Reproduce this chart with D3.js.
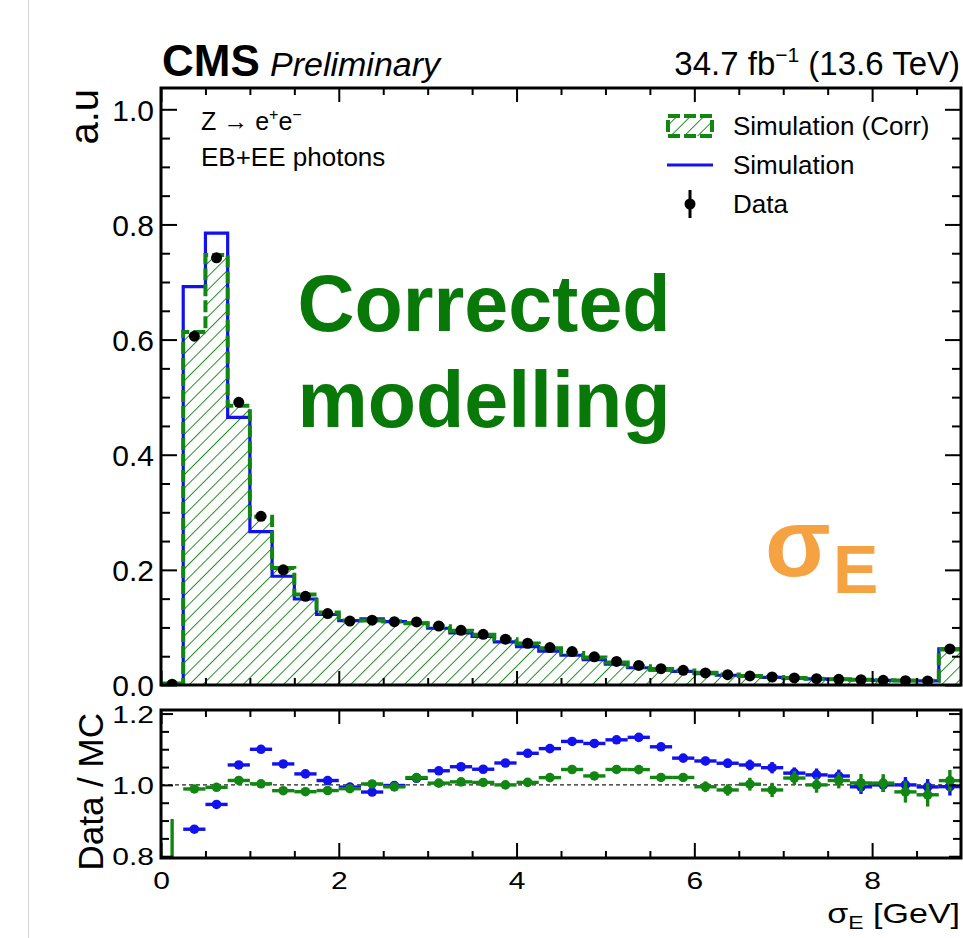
<!DOCTYPE html>
<html>
<head>
<meta charset="utf-8">
<script src="https://cdn.jsdelivr.net/npm/d3@7"></script>
<style>
  body { margin: 0; background: #fff; }
  svg { display: block; }
  text { font-family: "Liberation Sans", Arial, Helvetica, sans-serif; }
</style>
</head>
<body>
<svg id="chart" width="963" height="938"></svg>
<script>
// ---- binning: 36 bins of 0.25 GeV in sigma_E (last bin holds overflow) ----
const binLow = [0, 0.25, 0.5, 0.75, 1.0, 1.25, 1.5, 1.75, 2.0, 2.25, 2.5, 2.75,
                3.0, 3.25, 3.5, 3.75, 4.0, 4.25, 4.5, 4.75, 5.0, 5.25, 5.5, 5.75,
                6.0, 6.25, 6.5, 6.75, 7.0, 7.25, 7.5, 7.75, 8.0, 8.25, 8.5, 8.75];
const binWidth = 0.25;

// ---- normalised distributions (a.u.) ----
const dataVals = [0.0015, 0.606, 0.742, 0.491, 0.293, 0.200, 0.154, 0.124, 0.111, 0.1125, 0.110, 0.1095,
                  0.1025, 0.095, 0.088, 0.0795, 0.0725, 0.065, 0.058, 0.049, 0.041, 0.034, 0.0284, 0.0255,
                  0.021, 0.018, 0.0157, 0.0139, 0.0122, 0.011, 0.0099, 0.0093, 0.0081, 0.0075, 0.007, 0.0626];

const simVals = [0.0030, 0.692, 0.785, 0.465, 0.2664, 0.1889, 0.1494, 0.1225, 0.1117, 0.1148, 0.1102, 0.1075,
                 0.0986, 0.0904, 0.0843, 0.0749, 0.0666, 0.0590, 0.0517, 0.0439, 0.0364, 0.0300, 0.02566, 0.02372,
                 0.01968, 0.01697, 0.01487, 0.01326, 0.01181, 0.0107, 0.00966, 0.00935, 0.0081, 0.0075, 0.00704, 0.06291];

const simCorrVals = [0.0021, 0.613, 0.747, 0.485, 0.2921, 0.2033, 0.157, 0.126, 0.1122, 0.1122, 0.1106, 0.1073,
                     0.102, 0.0942, 0.0874, 0.0795, 0.0720, 0.0637, 0.0556, 0.0478, 0.0393, 0.0326, 0.02782, 0.02498,
                     0.02111, 0.01826, 0.01567, 0.0141, 0.01197, 0.0110, 0.00978, 0.00925, 0.00806, 0.00765, 0.0072, 0.06186];

// ---- uncertainties on Data / MC ----
const errSim = [0.19, 0.004, 0.004, 0.004, 0.004, 0.004, 0.004, 0.004, 0.004, 0.005, 0.005, 0.005,
                0.005, 0.005, 0.006, 0.006, 0.006, 0.007, 0.007, 0.007, 0.008, 0.008, 0.009, 0.010,
                0.012, 0.013, 0.015, 0.016, 0.016, 0.018, 0.018, 0.020, 0.020, 0.022, 0.022, 0.025];
const errCorr = [0.19, 0.004, 0.004, 0.004, 0.004, 0.004, 0.004, 0.004, 0.004, 0.005, 0.005, 0.005,
                 0.005, 0.005, 0.006, 0.006, 0.006, 0.007, 0.008, 0.008, 0.009, 0.009, 0.010, 0.012,
                 0.015, 0.016, 0.018, 0.020, 0.020, 0.022, 0.022, 0.025, 0.025, 0.030, 0.033, 0.030];

// ---- ticks ----
const xMajorTicks = [0, 2, 4, 6, 8];
const xMinorTicks = [0.5, 1, 1.5, 2.5, 3, 3.5, 4.5, 5, 5.5, 6.5, 7, 7.5, 8.5];
const yMainTicks = [0, 0.2, 0.4, 0.6, 0.8, 1.0];
const yMainMinor = [0.05, 0.1, 0.15, 0.25, 0.3, 0.35, 0.45, 0.5, 0.55, 0.65, 0.7, 0.75, 0.85, 0.9, 0.95];
const yRatioTicks = [0.8, 1.0, 1.2];
const yRatioMinor = [0.85, 0.9, 0.95, 1.05, 1.1, 1.15];

// ---- colours ----
const GREEN = "#128612";
const BLUE = "#1212ee";
const ORANGE = "#f4a242";

// ---- layout ----
const X0 = 161, X1 = 961;
const mainTop = 88, mainBot = 685;
const ratTop = 710, ratBot = 858;

const svg = d3.select("#chart");

const x = d3.scaleLinear().domain([0, 9]).range([X0, X1]);
const yMain = d3.scaleLinear().domain([0, 1.037]).range([mainBot, mainTop]);
const yRat = d3.scaleLinear().domain([0.795, 1.21]).range([ratBot, ratTop]);

// page edge line
svg.append("line").attr("x1", 28.5).attr("x2", 28.5).attr("y1", 0).attr("y2", 938)
  .attr("stroke", "#d4d4d4").attr("stroke-width", 1);

const defs = svg.append("defs");
const pat = defs.append("pattern").attr("id", "hatch")
  .attr("patternUnits", "userSpaceOnUse").attr("width", 9.5).attr("height", 9.5)
  .attr("patternTransform", "rotate(45)");
pat.append("line").attr("x1", 0).attr("y1", 0).attr("x2", 0).attr("y2", 9.5)
  .attr("stroke", GREEN).attr("stroke-width", 1.8);

defs.append("clipPath").attr("id", "clipMain").append("rect")
  .attr("x", X0).attr("y", mainTop).attr("width", X1 - X0).attr("height", mainBot - mainTop);
defs.append("clipPath").attr("id", "clipRat").append("rect")
  .attr("x", X0).attr("y", ratTop).attr("width", X1 - X0).attr("height", ratBot - ratTop);

// ---- main panel histograms ----
const stepPts = vals => binLow.map((lo, i) => [lo, vals[i]]).concat([[9, vals[vals.length - 1]]]);

const main = svg.append("g").attr("clip-path", "url(#clipMain)");

const area = d3.area().curve(d3.curveStepAfter)
  .x(d => x(d[0])).y0(yMain(0)).y1(d => yMain(d[1]));
const line = d3.line().curve(d3.curveStepAfter)
  .x(d => x(d[0])).y(d => yMain(d[1]));

main.append("path").datum(stepPts(simCorrVals)).attr("d", area)
  .attr("fill", "url(#hatch)").attr("stroke", "none");
main.append("path").datum(stepPts(simVals)).attr("d", line)
  .attr("fill", "none").attr("stroke", BLUE).attr("stroke-width", 3.2);
main.append("path").datum(stepPts(simCorrVals)).attr("d", line)
  .attr("fill", "none").attr("stroke", GREEN).attr("stroke-width", 4)
  .attr("stroke-dasharray", "12,4");

const centres = binLow.map(lo => lo + binWidth / 2);

main.selectAll("circle.data").data(dataVals).join("circle").attr("class", "data")
  .attr("cx", (d, i) => x(centres[i])).attr("cy", d => yMain(d)).attr("r", 5.5)
  .attr("fill", "#000");

// ---- ratio panel ----
const rat = svg.append("g").attr("clip-path", "url(#clipRat)");

rat.append("line").attr("x1", X0).attr("x2", X1).attr("y1", yRat(1)).attr("y2", yRat(1))
  .attr("stroke", "#222").attr("stroke-width", 1.4).attr("stroke-dasharray", "4,3");

function drawRatio(mcVals, errs, colour) {
  const pts = dataVals.map((d, i) => ({ lo: binLow[i], c: centres[i], r: d / mcVals[i], e: errs[i] }));
  const g = rat.append("g");
  g.selectAll("line.h").data(pts).join("line")
    .attr("x1", p => x(p.lo)).attr("x2", p => x(p.lo + binWidth))
    .attr("y1", p => yRat(p.r)).attr("y2", p => yRat(p.r))
    .attr("stroke", colour).attr("stroke-width", 3.4);
  g.selectAll("line.v").data(pts).join("line")
    .attr("x1", p => x(p.c)).attr("x2", p => x(p.c))
    .attr("y1", p => yRat(p.r - p.e)).attr("y2", p => yRat(p.r + p.e))
    .attr("stroke", colour).attr("stroke-width", 3.4);
  g.selectAll("circle").data(pts).join("circle")
    .attr("cx", p => x(p.c)).attr("cy", p => yRat(p.r)).attr("r", 4.8)
    .attr("fill", colour);
}
drawRatio(simVals, errSim, BLUE);
drawRatio(simCorrVals, errCorr, GREEN);

// ---- frames ----
[[mainTop, mainBot], [ratTop, ratBot]].forEach(([t, b]) => {
  svg.append("rect").attr("x", X0).attr("y", t).attr("width", X1 - X0).attr("height", b - t)
    .attr("fill", "none").attr("stroke", "#000").attr("stroke-width", 3);
});

// ---- axes (inward ticks on all four sides) ----
function ticks(axisGen, vals, size, tx, ty) {
  const g = svg.append("g").attr("transform", `translate(${tx},${ty})`)
    .call(axisGen.tickValues(vals).tickSize(-size).tickFormat(""));
  g.select(".domain").remove();
  g.selectAll(".tick line").attr("stroke", "#000").attr("stroke-width", 2);
  return g;
}

// main panel x ticks
ticks(d3.axisBottom(x), xMajorTicks, 14, 0, mainBot);
ticks(d3.axisBottom(x), xMinorTicks, 7, 0, mainBot);
ticks(d3.axisTop(x), xMajorTicks, 14, 0, mainTop);
ticks(d3.axisTop(x), xMinorTicks, 7, 0, mainTop);
// ratio panel x ticks
ticks(d3.axisBottom(x), xMinorTicks, 7, 0, ratBot);
ticks(d3.axisTop(x), xMajorTicks, 14, 0, ratTop);
ticks(d3.axisTop(x), xMinorTicks, 7, 0, ratTop);
// main y ticks
ticks(d3.axisLeft(yMain), yMainMinor, 9, X0, 0);
ticks(d3.axisRight(yMain), yMainTicks, 16, X1, 0);
ticks(d3.axisRight(yMain), yMainMinor, 9, X1, 0);
// ratio y ticks
ticks(d3.axisLeft(yRat), yRatioMinor, 8, X0, 0);
ticks(d3.axisRight(yRat), yRatioTicks, 12, X1, 0);
ticks(d3.axisRight(yRat), yRatioMinor, 8, X1, 0);

// labelled axes
const gxr = svg.append("g").attr("transform", `translate(0,${ratBot})`)
  .call(d3.axisBottom(x).tickValues(xMajorTicks).tickSize(-15).tickFormat(d3.format("d")));
gxr.select(".domain").remove();
gxr.selectAll(".tick line").attr("stroke", "#000").attr("stroke-width", 2);
gxr.selectAll(".tick text").attr("y", 0).attr("dy", 0)
  .attr("transform", "translate(0,31) scale(1,0.78)")
  .attr("font-size", 30).attr("fill", "#000")
  .style("font-family", "'Liberation Sans', Arial, sans-serif");

const gym = svg.append("g").attr("transform", `translate(${X0},0)`)
  .call(d3.axisLeft(yMain).tickValues(yMainTicks).tickSize(-16).tickPadding(7).tickFormat(d3.format(".1f")));
gym.select(".domain").remove();
gym.selectAll(".tick line").attr("stroke", "#000").attr("stroke-width", 2);
gym.selectAll(".tick text").attr("dy", "0.36em").attr("font-size", 30).attr("fill", "#000")
  .style("font-family", "'Liberation Sans', Arial, sans-serif");

const gyr = svg.append("g").attr("transform", `translate(${X0},0)`)
  .call(d3.axisLeft(yRat).tickValues(yRatioTicks).tickSize(-12).tickPadding(7).tickFormat(d3.format(".1f")));
gyr.select(".domain").remove();
gyr.selectAll(".tick line").attr("stroke", "#000").attr("stroke-width", 2);
gyr.selectAll(".tick text").attr("dy", 0).attr("transform", "translate(0,8.6) scale(1,0.8)")
  .attr("font-size", 30).attr("fill", "#000")
  .style("font-family", "'Liberation Sans', Arial, sans-serif");

// axis titles
svg.append("text").attr("transform", "translate(98,89) rotate(-90)")
  .attr("text-anchor", "end").attr("font-size", 40).text("a.u");
svg.append("text").attr("transform", "translate(103,713) rotate(-90)")
  .attr("text-anchor", "end").attr("font-size", 35).text("Data / MC");

const xt = svg.append("text").attr("transform", "translate(960,923) scale(1,0.82)")
  .attr("text-anchor", "end").attr("font-size", 34);
xt.append("tspan").text("σ");
xt.append("tspan").attr("font-size", 23).attr("dy", 7).text("E");
xt.append("tspan").attr("dy", -7).text(" [GeV]");

// ---- header ----
svg.append("text").attr("x", 162).attr("y", 76).attr("font-size", 44).attr("font-weight", "bold").text("CMS");
svg.append("text").attr("x", 270).attr("y", 76).attr("font-size", 34).attr("font-style", "italic").text("Preliminary");
const lumi = svg.append("text").attr("x", 960).attr("y", 75).attr("text-anchor", "end").attr("font-size", 33);
lumi.append("tspan").text("34.7 fb");
lumi.append("tspan").attr("font-size", 21).attr("dy", -13).text("−1");
lumi.append("tspan").attr("dy", 13).text(" (13.6 TeV)");

// ---- process label ----
const proc = svg.append("text").attr("x", 201).attr("y", 130).attr("font-size", 25);
proc.append("tspan").text("Z → e");
proc.append("tspan").attr("font-size", 16).attr("dy", -10).text("+");
proc.append("tspan").attr("dy", 10).text("e");
proc.append("tspan").attr("font-size", 16).attr("dy", -10).text("−");
svg.append("text").attr("x", 201).attr("y", 166).attr("font-size", 26).text("EB+EE photons");

// ---- legend ----
const legendItems = ["Simulation (Corr)", "Simulation", "Data"];
const legY = [126, 165, 204];
const leg = svg.append("g");
leg.append("rect").attr("x", 668).attr("y", legY[0] - 10).attr("width", 44).attr("height", 20)
  .attr("fill", "url(#hatch)").attr("stroke", GREEN).attr("stroke-width", 4).attr("stroke-dasharray", "12,4");
leg.append("line").attr("x1", 667).attr("x2", 713).attr("y1", legY[1]).attr("y2", legY[1])
  .attr("stroke", BLUE).attr("stroke-width", 3.2);
leg.append("line").attr("x1", 690).attr("x2", 690).attr("y1", legY[2] - 14).attr("y2", legY[2] + 14)
  .attr("stroke", "#000").attr("stroke-width", 3);
leg.append("circle").attr("cx", 690).attr("cy", legY[2]).attr("r", 5.5).attr("fill", "#000");
leg.selectAll("text.lg").data(legendItems).join("text").attr("class", "lg")
  .attr("x", 733).attr("y", (d, i) => legY[i] + 9).attr("font-size", 26).text(d => d);

// ---- annotations ----
svg.append("text").attr("x", 484).attr("y", 331).attr("text-anchor", "middle")
  .attr("font-size", 79).attr("font-weight", "bold").attr("fill", "#087808").text("Corrected");
svg.append("text").attr("x", 484).attr("y", 427).attr("text-anchor", "middle")
  .attr("font-size", 79).attr("font-weight", "bold").attr("fill", "#087808").text("modelling");

svg.append("text").attr("x", 765).attr("y", 576).attr("font-size", 96)
  .attr("font-weight", "bold").attr("fill", ORANGE).text("σ");
svg.append("text").attr("x", 833).attr("y", 593).attr("font-size", 68)
  .attr("font-weight", "bold").attr("fill", ORANGE).text("E");
</script>
</body>
</html>
